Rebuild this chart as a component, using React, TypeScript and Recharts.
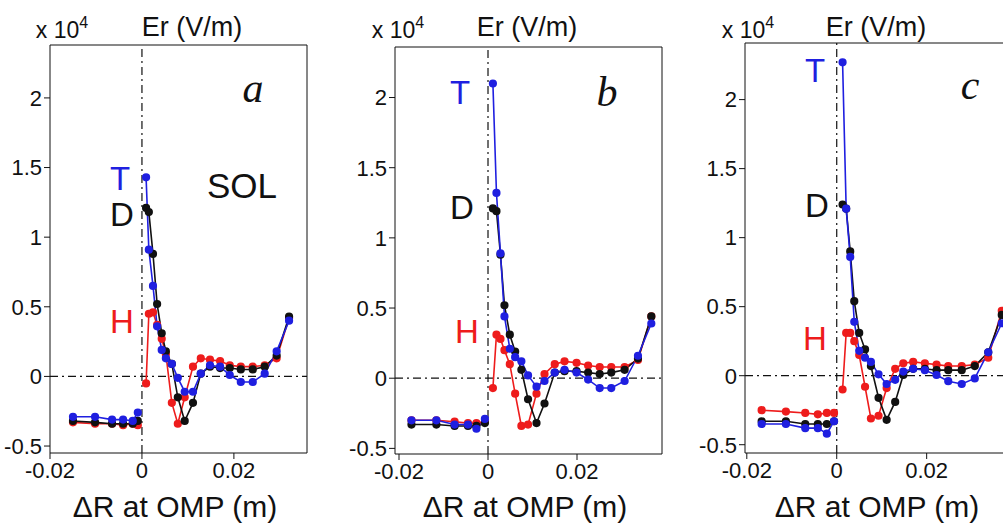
import React from "react";
import { LineChart, Line, XAxis, YAxis, ReferenceLine } from "recharts";

// Er profiles (units of 1e4 V/m) vs ΔR at OMP (m). Left of separatrix, then SOL side.
const aXCore = [-0.015, -0.0102, -0.0065, -0.0041, -0.002, -0.0009];
const aXSol = [0.0009, 0.0015, 0.0024, 0.0033, 0.0043, 0.0052, 0.0065, 0.0078, 0.0093, 0.0111, 0.0128, 0.0148, 0.017, 0.0191, 0.0215, 0.0241, 0.0267, 0.0293, 0.032];
const aTCore = [-0.29, -0.29, -0.31, -0.31, -0.32, -0.26];
const aDCore = [-0.32, -0.33, -0.34, -0.34, -0.34, -0.32];
const aHCore = [-0.33, -0.34, -0.34, -0.35, -0.34, -0.35];
const aTSol = [1.43, 0.91, 0.65, 0.36, 0.19, 0.13, 0.09, -0.01, -0.11, -0.11, 0.02, 0.08, 0.07, 0.01, -0.04, -0.04, 0.02, 0.18, 0.4];
const aDSol = [1.21, 1.18, 0.88, 0.52, 0.31, 0.18, 0.09, -0.15, -0.32, -0.19, 0.02, 0.07, 0.06, 0.06, 0.05, 0.05, 0.07, 0.15, 0.43];
const aHSol = [-0.05, 0.45, 0.46, 0.37, 0.27, 0.16, -0.19, -0.34, -0.15, 0.07, 0.13, 0.12, 0.11, 0.08, 0.07, 0.07, 0.08, 0.13, 0.42];

const bXCore = [-0.0172, -0.0116, -0.0075, -0.0045, -0.0026, -0.0007];
const bXSol = [0.0011, 0.0019, 0.0028, 0.0037, 0.0049, 0.0061, 0.0075, 0.009, 0.0109, 0.0127, 0.015, 0.0172, 0.0199, 0.0225, 0.0251, 0.0277, 0.0307, 0.0337, 0.0367];
const bTCore = [-0.3, -0.3, -0.33, -0.33, -0.36, -0.29];
const bDCore = [-0.33, -0.33, -0.34, -0.34, -0.34, -0.32];
const bHCore = [-0.3, -0.3, -0.31, -0.32, -0.32, -0.31];
const bTSol = [2.1, 1.32, 0.89, 0.44, 0.21, 0.15, 0.12, 0.02, -0.06, -0.02, 0.04, 0.06, 0.04, -0.01, -0.07, -0.07, -0.02, 0.16, 0.39];
const bDSol = [1.21, 1.19, 0.88, 0.52, 0.31, 0.19, 0.06, -0.15, -0.32, -0.18, 0.04, 0.05, 0.05, 0.04, 0.03, 0.04, 0.06, 0.14, 0.44];
const bHSol = [-0.07, 0.31, 0.28, 0.2, 0.1, -0.11, -0.34, -0.33, -0.11, 0.03, 0.1, 0.12, 0.11, 0.09, 0.08, 0.08, 0.08, 0.13, 0.44];

const cXCore = [-0.0167, -0.0113, -0.007, -0.0042, -0.0022, -0.0006];
const cXSol = [0.0013, 0.0021, 0.003, 0.0039, 0.005, 0.0063, 0.0076, 0.0093, 0.0111, 0.013, 0.0148, 0.017, 0.0196, 0.0222, 0.0248, 0.0278, 0.0307, 0.0337, 0.0367];
const cTCore = [-0.35, -0.35, -0.38, -0.38, -0.42, -0.33];
const cDCore = [-0.33, -0.33, -0.35, -0.35, -0.35, -0.33];
const cHCore = [-0.25, -0.26, -0.27, -0.28, -0.27, -0.27];
const cTSol = [2.27, 1.21, 0.86, 0.39, 0.18, 0.13, 0.1, 0.01, -0.06, -0.03, 0.03, 0.05, 0.04, 0.005, -0.04, -0.06, -0.02, 0.17, 0.38];
const cDSol = [1.24, 1.21, 0.9, 0.54, 0.31, 0.19, 0.07, -0.16, -0.32, -0.19, 0.005, 0.05, 0.05, 0.04, 0.04, 0.04, 0.07, 0.17, 0.44];
const cHSol = [-0.1, 0.31, 0.31, 0.25, 0.15, -0.08, -0.31, -0.29, -0.09, 0.05, 0.09, 0.1, 0.09, 0.08, 0.07, 0.07, 0.08, 0.13, 0.47];

const xTicks = [-0.02, 0, 0.02];
const yTicks = [-0.5, 0, 0.5, 1, 1.5, 2];

const BLUE = "#1f1fe0";
const RED = "#ee1c1c";
const FONT = "'Liberation Sans', Arial, sans-serif";

type Row = { x: number; T: number | null; D: number | null; H: number | null };

function rows(xc: number[], xs: number[], tc: number[], dc: number[], hc: number[], ts: number[], ds: number[], hs: number[]): Row[] {
  const core = xc.map((x, i) => ({ x, T: tc[i], D: dc[i], H: hc[i] }));
  const sol = xs.map((x, i) => ({ x, T: ts[i], D: ds[i], H: hs[i] }));
  // null row at the separatrix breaks the lines
  return [...core, { x: 0, T: null, D: null, H: null }, ...sol];
}

const fmtY = (v: number) => (v === 0 ? "0" : String(v));
const fmtX = (v: number) => (v === 0 ? "0" : v.toFixed(2));

type PanelProps = {
  data: Row[];
  left: number;
  mLeft: number;
  plotW: number;
  top: number;
  bottom: number;
  xDomain: [number, number];
  yDomain: [number, number];
};

function Panel({ data, left, mLeft, plotW, top, bottom, xDomain, yDomain }: PanelProps) {
  const tick = { fontSize: 22, fill: "#111", fontFamily: FONT };
  const dash = "8 4 2 4";
  return (
    <div style={{ position: "absolute", left, top: 0 }}>
      <LineChart
        width={mLeft + plotW + 1}
        height={529}
        data={data}
        margin={{ top: 0, right: 0, bottom: 0, left: 0 }}
      >
        <XAxis
          xAxisId="b"
          type="number"
          dataKey="x"
          domain={xDomain}
          ticks={xTicks}
          tickFormatter={fmtX}
          allowDataOverflow
          stroke="#111"
          tick={tick}
          tickSize={6}
          tickMargin={3}
          height={529 - bottom}
        />
        <XAxis xAxisId="t" orientation="top" type="number" dataKey="x" domain={xDomain} ticks={xTicks} allowDataOverflow stroke="#111" tick={false} height={top} />
        <YAxis
          yAxisId="l"
          type="number"
          domain={yDomain}
          ticks={yTicks}
          tickFormatter={fmtY}
          allowDataOverflow
          stroke="#111"
          tick={tick}
          tickSize={6}
          width={mLeft}
        />
        <YAxis yAxisId="r" orientation="right" type="number" domain={yDomain} ticks={yTicks} allowDataOverflow stroke="#111" tick={false} width={1} />
        <ReferenceLine xAxisId="b" yAxisId="l" y={0} stroke="#111" strokeWidth={1.2} strokeDasharray={dash} />
        <ReferenceLine xAxisId="b" yAxisId="l" x={0} stroke="#111" strokeWidth={1.2} strokeDasharray={dash} />
        <Line xAxisId="b" yAxisId="l" dataKey="H" stroke={RED} strokeWidth={1.6} dot={{ r: 3.3, fill: RED, stroke: RED }} isAnimationActive={false} />
        <Line xAxisId="b" yAxisId="l" dataKey="D" stroke="#111" strokeWidth={1.6} dot={{ r: 3.3, fill: "#111", stroke: "#111" }} isAnimationActive={false} />
        <Line xAxisId="b" yAxisId="l" dataKey="T" stroke={BLUE} strokeWidth={1.6} dot={{ r: 3.3, fill: BLUE, stroke: BLUE }} isAnimationActive={false} />
      </LineChart>
    </div>
  );
}

function Txt({ x, y, size, color = "#111", italic, serif, children }: { x: number; y: number; size: number; color?: string; italic?: boolean; serif?: boolean; children: React.ReactNode }) {
  return (
    <div
      style={{
        position: "absolute",
        left: x,
        top: y,
        transform: "translate(-50%, -50%)",
        fontSize: size,
        color,
        fontStyle: italic ? "italic" : "normal",
        fontFamily: serif ? "'Liberation Serif', 'Times New Roman', serif" : FONT,
        whiteSpace: "nowrap",
        lineHeight: 1,
      }}
    >
      {children}
    </div>
  );
}

function Header({ x10, er }: { x10: number; er: number }) {
  return (
    <>
      <Txt x={x10} y={28} size={23}>
        x 10<sup style={{ fontSize: 16, verticalAlign: 10 }}>4</sup>
      </Txt>
      <Txt x={er} y={27} size={27}>Er (V/m)</Txt>
    </>
  );
}

const dataA = rows(aXCore, aXSol, aTCore, aDCore, aHCore, aTSol, aDSol, aHSol);
const dataB = rows(bXCore, bXSol, bTCore, bDCore, bHCore, bTSol, bDSol, bHSol);
const dataC = rows(cXCore, cXSol, cTCore, cDCore, cHCore, cTSol, cDSol, cHSol);

export default function App() {
  return (
    <div style={{ position: "absolute", left: 0, top: 0, width: 1003, height: 529, overflow: "hidden", background: "#fff", fontFamily: FONT }}>
      <Panel data={dataA} left={0} mLeft={50} plotW={257} top={45} bottom={453} xDomain={[-0.02, 0.0359]} yDomain={[-0.55, 2.38]} />
      <Panel data={dataB} left={340} mLeft={55} plotW={267} top={47} bottom={454} xDomain={[-0.0209, 0.0391]} yDomain={[-0.54, 2.36]} />
      <Panel data={dataC} left={680} mLeft={65} plotW={268} top={43} bottom={453} xDomain={[-0.0204, 0.0392]} yDomain={[-0.56, 2.41]} />

      <Header x10={62} er={192} />
      <Header x10={398} er={527} />
      <Header x10={748} er={876} />

      <Txt x={253} y={88} size={42} italic serif>a</Txt>
      <Txt x={607} y={92} size={42} italic serif>b</Txt>
      <Txt x={970} y={85} size={42} italic serif>c</Txt>
      <Txt x={242} y={185} size={35}>SOL</Txt>

      <Txt x={120} y={178} size={33} color={BLUE}>T</Txt>
      <Txt x={122} y={214} size={33}>D</Txt>
      <Txt x={122} y={321} size={33} color={RED}>H</Txt>
      <Txt x={460} y={92} size={33} color={BLUE}>T</Txt>
      <Txt x={462} y={207} size={33}>D</Txt>
      <Txt x={467} y={331} size={33} color={RED}>H</Txt>
      <Txt x={815} y={70} size={33} color={BLUE}>T</Txt>
      <Txt x={817} y={205} size={33}>D</Txt>
      <Txt x={815} y={338} size={33} color={RED}>H</Txt>

      <Txt x={175} y={507} size={30}>ΔR at OMP (m)</Txt>
      <Txt x={525} y={507} size={30}>ΔR at OMP (m)</Txt>
      <Txt x={877} y={507} size={30}>ΔR at OMP (m)</Txt>
    </div>
  );
}
